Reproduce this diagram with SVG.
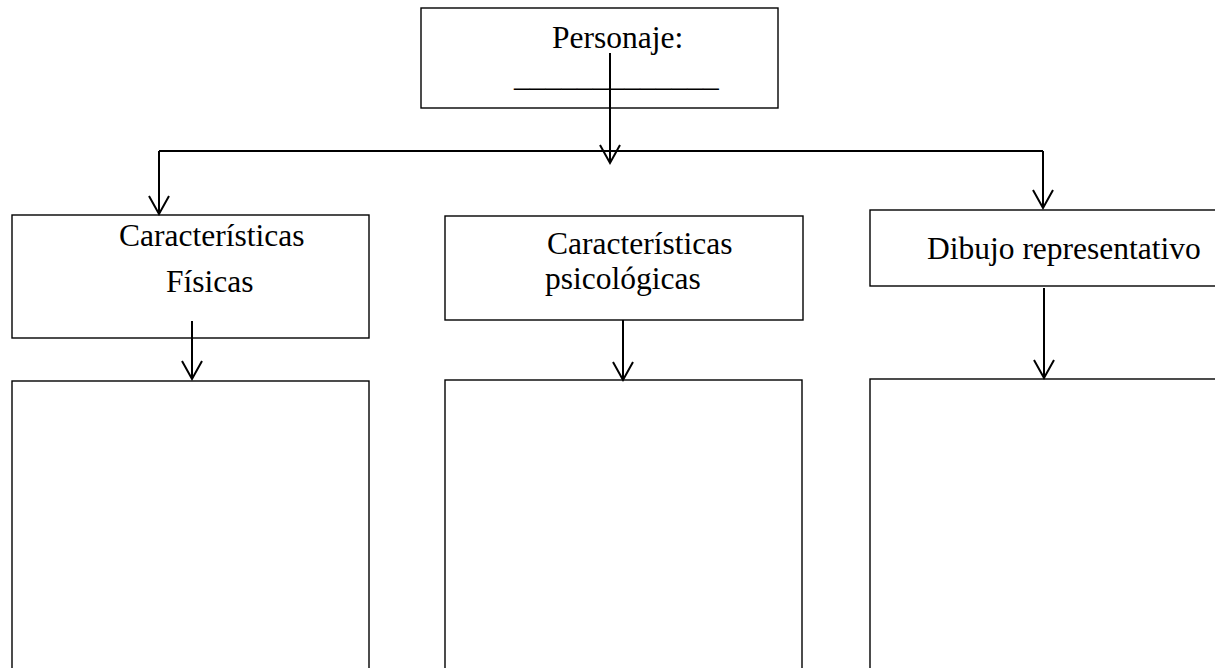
<svg xmlns="http://www.w3.org/2000/svg" width="1215" height="668" viewBox="0 0 1215 668">
<style>
.box{fill:#fff;stroke:#000;stroke-width:1.4}
.t{font-family:"Liberation Serif","Times New Roman",serif;font-size:31.5px;fill:#000}
.c{fill:none;stroke:#000;stroke-width:2}
.a{marker-end:url(#arr)}
</style>
<defs>
<marker id="arr" markerUnits="userSpaceOnUse" markerWidth="40" markerHeight="40" refX="0" refY="0" orient="auto" overflow="visible">
<path d="M-18,-10 L0,0 L-18,10" fill="none" stroke="#000" stroke-width="2"/>
</marker>
</defs>
<rect width="1215" height="668" fill="#fff"/>
<g id="personaje">
<rect class="box" x="421" y="8" width="357" height="100"/>
<text class="t" x="552" y="48">Personaje:</text>
<text class="t" x="514" y="86">_____________</text>
</g>
<g id="fisicas">
<rect class="box" x="12" y="215" width="357" height="123"/>
<text class="t" x="119" y="246">Características</text>
<text class="t" x="166" y="292">Físicas</text>
</g>
<g id="psicologicas">
<rect class="box" x="445" y="216" width="358" height="104"/>
<text class="t" x="547" y="254">Características</text>
<text class="t" x="545" y="289">psicológicas</text>
</g>
<g id="dibujo">
<rect class="box" x="870" y="210" width="400" height="76"/>
<text class="t" x="927" y="259">Dibujo representativo</text>
</g>
<g id="caja1">
<rect class="box" x="12" y="381" width="357" height="400"/>
</g>
<g id="caja2">
<rect class="box" x="445" y="380" width="357" height="400"/>
</g>
<g id="caja3">
<rect class="box" x="870" y="379" width="400" height="400"/>
</g>
<g id="connectors">
<line class="c a" x1="610" y1="53" x2="610" y2="163"/>
<polyline class="c" points="159,151 1043,151"/>
<line class="c a" x1="159" y1="151" x2="159" y2="214"/>
<line class="c a" x1="1043" y1="151" x2="1043" y2="208"/>
<line class="c a" x1="192" y1="321" x2="192" y2="379"/>
<line class="c a" x1="623" y1="320" x2="623" y2="380"/>
<line class="c a" x1="1044" y1="288" x2="1044" y2="378"/>
</g>
</svg>
